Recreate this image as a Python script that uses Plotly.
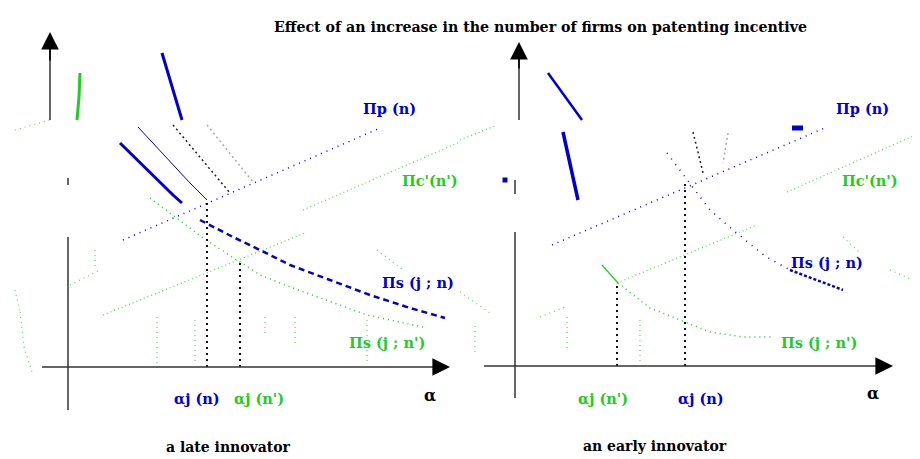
import plotly.graph_objects as go
from plotly.subplots import make_subplots

BLUE = "#0000cc"
GREEN = "#22cc22"
LGREEN = "#55dd55"
SERIF = "DejaVu Serif"

# ---- left panel: a late innovator (alpha, payoff) ----
late_pp_a = [55, 312]
late_pp_y = [127, 239]
late_pc_low_a = [35, 237]
late_pc_low_y = [52, 134]
late_pc_up_a = [235, 392]
late_pc_up_y = [157, 225]
late_ps_top_a = [94, 102, 108, 114]
late_ps_top_y = [314, 287, 267, 247]
late_ps_mid_a = [52, 80, 105, 114]
late_ps_mid_y = [224, 196, 172, 164]
late_ps_thin_a = [70, 122, 139]
late_ps_thin_y = [240, 184, 167]
late_ps_low_a = [132, 165, 192, 222, 262, 302, 342, 377]
late_ps_low_y = [147, 130, 117, 102, 87, 72, 59, 49]
late_psp_a = [82, 102, 135, 172, 192, 225, 265, 299, 355]
late_psp_y = [169, 154, 129, 105, 92, 79, 64, 52, 40]
late_psp_top_a = [12, 11, 9]
late_psp_top_y = [294, 270, 247]
late_black_a = [105, 162]
late_black_y = [242, 174]
late_gray_a = [139, 185]
late_gray_y = [242, 185]
late_alpha_n, late_alpha_n2 = 139, 172
late_cut_n, late_cut_n2 = 165, 107
# stray green fragments of the scanned drawing: (a0, a1, y0, y1)
late_bits = [(-53, -18, 237, 247), (27, 27, 117, 97), (2, 32, 82, 97), (-53, -48, 77, 55),
             (-48, -44, 55, 20), (-44, -36, 20, -5), (89, 89, 50, -1), (127, 127, 47, 2),
             (197, 197, 50, 32), (227, 227, 50, 24), (299, 299, 47, 2), (309, 335, 117, 97)]

# ---- right panel: an early innovator ----
early_pp_a = [37, 312]
early_pp_y = [121, 239]
early_pc_low_a = [102, 242]
early_pc_low_y = [83, 141]
early_pc_up_a = [272, 405]
early_pc_up_y = [174, 233]
early_pc_left_a = [-55, -20]
early_pc_left_y = [226, 240]
early_ps_top_a = [33, 67]
early_ps_top_y = [293, 246]
early_ps_mid_a = [48, 63]
early_ps_mid_y = [234, 166]
early_ps_low_a = [152, 165, 180, 195, 218, 250, 275]
early_ps_low_y = [213, 196, 176, 156, 136, 110, 96]
early_ps_end_a = [275, 328]
early_ps_end_y = [96, 76]
early_psp_steep_a = [87, 103]
early_psp_steep_y = [101, 83]
early_psp_a = [103, 135, 165, 195, 228, 258]
early_psp_y = [83, 58, 46, 34, 29, 29]
early_black_a = [178, 188]
early_black_y = [234, 193]
early_gray_a = [213, 208]
early_gray_y = [233, 203]
early_alpha_n2, early_alpha_n = 102, 170
early_cut_n2, early_cut_n = 84, 184
early_bits = [(25, 50, 49, 59), (125, 125, 46, 1), (52, 52, 49, 16), (-55, -25, 74, 53),
              (328, 345, 129, 113), (375, 405, 96, 83), (-40, -40, 40, 10)]
early_squares_a = [-10, 402]
early_squares_y = [186, 186]

fig = make_subplots(rows=1, cols=2, horizontal_spacing=0)


def line(a, y, col, color, width=1, dash="solid"):
    fig.add_trace(go.Scatter(x=a, y=y, mode="lines", showlegend=False, hoverinfo="skip",
                             line=dict(color=color, width=width, dash=dash)), row=1, col=col)


DOT = "1px,5px"
VDOT = "2px,4px"

# left panel curves
for a0, a1, y0, y1 in late_bits:
    line([a0, a1], [y0, y1], 1, LGREEN, 1.2, "1px,4px")
line(late_pp_a, late_pp_y, 1, BLUE, 1.5, DOT)
line(late_pc_low_a, late_pc_low_y, 1, LGREEN, 1.3, "1px,3px")
line(late_pc_up_a, late_pc_up_y, 1, LGREEN, 1.3, "1px,3px")
line(late_ps_top_a, late_ps_top_y, 1, BLUE, 3)
line(late_ps_mid_a, late_ps_mid_y, 1, BLUE, 3)
line(late_ps_thin_a, late_ps_thin_y, 1, BLUE, 1)
line(late_ps_low_a, late_ps_low_y, 1, BLUE, 2.5, "6px,4px")
line(late_psp_a, late_psp_y, 1, GREEN, 1.5, "1px,4px")
line(late_psp_top_a, late_psp_top_y, 1, GREEN, 3)
line(late_black_a, late_black_y, 1, "#222222", 1.5, "2px,3px")
line(late_gray_a, late_gray_y, 1, "#aaaaaa", 1.5, "2px,3px")
line([late_alpha_n, late_alpha_n], [0, late_cut_n], 1, "#111111", 2, VDOT)
line([late_alpha_n2, late_alpha_n2], [0, late_cut_n2], 1, "#111111", 2, VDOT)
line([0, 0], [-43, 130], 1, "#333333", 1.5)
line([-26, 374], [0, 0], 1, "#333333", 1.5)
line([-18, -18], [247, 320], 1, "#333333", 1.5)
line([0, 0], [182, 189], 1, "#333333", 1.5)

# right panel curves
for a0, a1, y0, y1 in early_bits:
    line([a0, a1], [y0, y1], 2, LGREEN, 1.2, "1px,4px")
line(early_pp_a, early_pp_y, 2, BLUE, 1.5, DOT)
line(early_pc_low_a, early_pc_low_y, 2, LGREEN, 1.3, "1px,3px")
line(early_pc_up_a, early_pc_up_y, 2, LGREEN, 1.3, "1px,3px")
line(early_pc_left_a, early_pc_left_y, 2, LGREEN, 1.3, "1px,3px")
line(early_ps_top_a, early_ps_top_y, 2, BLUE, 2.5)
line(early_ps_mid_a, early_ps_mid_y, 2, BLUE, 3.5)
line(early_ps_low_a, early_ps_low_y, 2, BLUE, 1.5, "1px,6px")
line(early_ps_end_a, early_ps_end_y, 2, BLUE, 2.5, "3px,2px")
line(early_psp_steep_a, early_psp_steep_y, 2, GREEN, 1.3)
line(early_psp_a, early_psp_y, 2, GREEN, 1.5, "1px,4px")
line(early_black_a, early_black_y, 2, "#222222", 1.5, "2px,3px")
line(early_gray_a, early_gray_y, 2, "#aaaaaa", 1.5, "2px,3px")
line([early_alpha_n, early_alpha_n], [0, early_cut_n], 2, "#111111", 2, VDOT)
line([early_alpha_n2, early_alpha_n2], [0, early_cut_n2], 2, "#111111", 2, VDOT)
line([0, 0], [-32, 134], 2, "#333333", 1.5)
line([-31, 364], [0, 0], 2, "#333333", 1.5)
line([4, 4], [246, 310], 2, "#333333", 1.5)
line([0, 0], [172, 186], 2, "#333333", 1.5)
line([277, 288], [238, 238], 2, BLUE, 5)
fig.add_trace(go.Scatter(x=early_squares_a, y=early_squares_y, mode="markers", showlegend=False,
                         hoverinfo="skip", marker=dict(symbol="square", size=5, color=BLUE)), row=1, col=2)

# arrowheads
for ax_name, x0, x1, y0, y1 in [("1", 364, 382, 0, 0), ("1", -18, -18, 305, 335),
                                 ("2", 364, 378, 0, 0), ("2", 4, 4, 296, 324)]:
    fig.add_annotation(x=x1, y=y1, ax=x0, ay=y0, xref="x" + ax_name, yref="y" + ax_name,
                       axref="x" + ax_name, ayref="y" + ax_name, showarrow=True, text="",
                       arrowhead=2, arrowsize=2.2, arrowwidth=1.6, arrowcolor="black")


def label(txt, a, y, col, color, size=14.5, bold=True):
    fig.add_annotation(x=a, y=y, xref=f"x{col}", yref=f"y{col}", text=f"<b>{txt}</b>" if bold else txt,
                       showarrow=False, font=dict(family=SERIF, size=size, color=color))


label("Πp (n)", 321, 259, 1, BLUE)
label("Πc'(n')", 362, 187, 1, GREEN)
label("Πs (j ; n)", 350, 85, 1, BLUE)
label("Πs (j ; n')", 319, 25, 1, GREEN)
label("αj (n)", 129, -31, 1, BLUE)
label("αj (n')", 191, -31, 1, GREEN)
label("α", 362, -28, 1, "black", 16)
label("a late innovator", 160, -80, 1, "black", 14)

label("Πp (n)", 347, 258, 2, BLUE)
label("Πc'(n')", 355, 186, 2, GREEN)
label("Πs (j ; n)", 312, 104, 2, BLUE)
label("Πs (j ; n')", 304, 24, 2, GREEN)
label("αj (n')", 88, -32, 2, GREEN)
label("αj (n)", 186, -32, 2, BLUE)
label("α", 358, -27, 2, "black", 16)
label("an early innovator", 140, -80, 2, "black", 14)

# the page body has an 8px margin; the figure is sized and ranged so that
# the panels land on the same pixels as the reference
W, H, OFF = 912, 451, 8
fig.add_annotation(x=(540 - OFF) / W, y=1 - (17 - OFF) / H, xref="paper", yref="paper", showarrow=False,
                   text="<b>Effect of an increase in the number of firms on patenting incentive</b>",
                   font=dict(family=SERIF, size=14.2, color="black"))

fig.update_xaxes(visible=False, fixedrange=True)
fig.update_yaxes(visible=False, fixedrange=True)
fig.update_layout(xaxis=dict(range=[-60, 392], domain=[0, 452 / W]),
                  xaxis2=dict(range=[-55, 405], domain=[452 / W, 1]),
                  yaxis=dict(range=[-92, 359]), yaxis2=dict(range=[-93, 358]),
                  width=W, height=H, margin=dict(l=0, r=0, t=0, b=0),
                  plot_bgcolor="white", paper_bgcolor="white")

fig.write_html("out.html")
